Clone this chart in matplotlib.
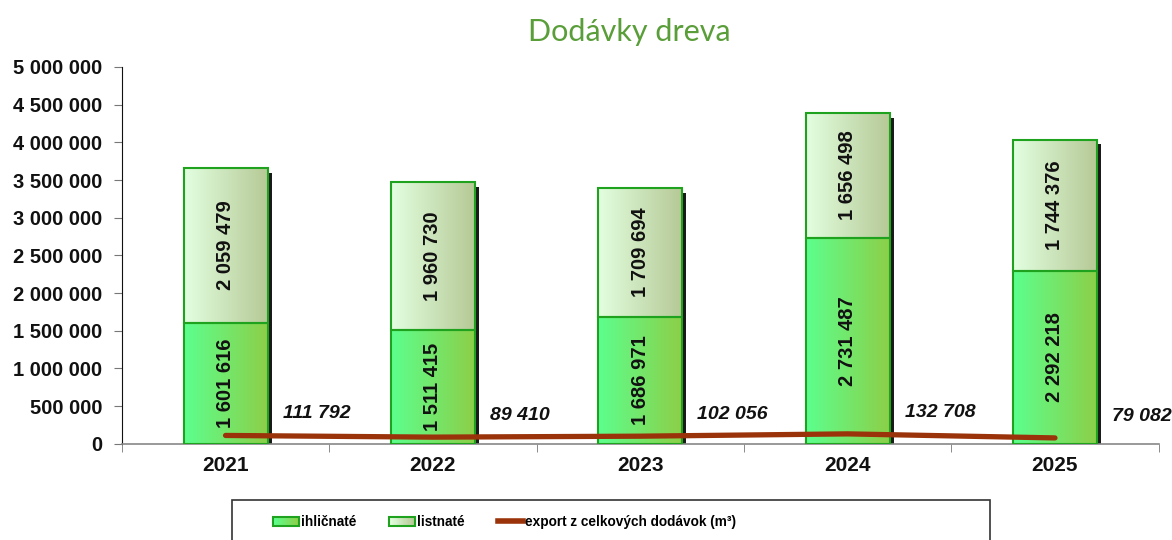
import numpy as np
import matplotlib
matplotlib.use("Agg")
import matplotlib.pyplot as plt
from matplotlib.colors import LinearSegmentedColormap
from matplotlib.patches import Rectangle, Patch
from matplotlib.lines import Line2D
from matplotlib.legend_handler import HandlerBase

plt.rcParams['font.family'] = ['Liberation Sans', 'DejaVu Sans']

# data
years = ['2021', '2022', '2023', '2024', '2025']
ihlicnate = [1601616, 1511415, 1686971, 2731487, 2292218]
listnate = [2059479, 1960730, 1709694, 1656498, 1744376]
export = [111792, 89410, 102056, 132708, 79082]

cmap_ihl = LinearSegmentedColormap.from_list('ihl', ['#5CFF8E', '#8CCF48'])
cmap_lis = LinearSegmentedColormap.from_list('lis', ['#E2FFE0', '#B6C996'])
edge = '#1FA31F'

def fmt(v):
    return f"{v:,}".replace(",", " ")

fig = plt.figure(figsize=(11.72, 5.4), dpi=100)
ax = fig.add_axes([0.104, 0.178, 0.8846, 0.698])

x = np.arange(len(years))
w = 0.405
grad = np.linspace(0, 1, 256).reshape(1, -1)
sx, sy = 0.02, 65000

for i in x:
    bottoms = [0, ihlicnate[i]]
    heights = [ihlicnate[i], listnate[i]]
    total = ihlicnate[i] + listnate[i]
    # shadow
    ax.add_patch(Rectangle((i - w / 2 + sx, 0), w, total - sy, facecolor='#1a1a1a',
                           edgecolor='none', zorder=1))
    for b, h, cm in zip(bottoms, heights, [cmap_ihl, cmap_lis]):
        ax.imshow(grad, cmap=cm, extent=[i - w / 2, i + w / 2, b, b + h],
                  aspect='auto', zorder=2)
        ax.add_patch(Rectangle((i - w / 2, b), w, h, facecolor='none',
                               edgecolor=edge, lw=1.5, zorder=3))
        ax.text(i, b + h / 2, fmt(h), rotation=90, ha='center', va='center',
                fontsize=14.5, fontweight='bold', color='#111111', zorder=5)

ax.plot(x, export, color='#9A3309', lw=3.8, solid_capstyle='round', zorder=4)
for i in x:
    ax.text(i + 0.275, export[i] + 290000, fmt(export[i]), ha='left', va='center',
            fontsize=14, fontweight='bold', style='italic', color='#111111', zorder=5)

ax.set_xlim(-0.5, len(years) - 0.5)
ax.set_ylim(0, 5000000)
ax.set_yticks(np.arange(0, 5000001, 500000))
ax.set_yticklabels([fmt(v) for v in range(0, 5000001, 500000)],
                   fontsize=14.5, fontweight='bold', color='#111111')
ax.set_xticks(x)
ax.set_xticklabels(years, fontsize=15, fontweight='bold', color='#111111')
ax.set_xticks(np.arange(-0.5, len(years), 1), minor=True)
ax.tick_params(axis='x', which='major', length=0, pad=9)
ax.tick_params(axis='x', which='minor', length=6, color='#777777', direction='out')
ax.tick_params(axis='y', length=6, color='#777777', direction='out', pad=8)
for s in ['top', 'right']:
    ax.spines[s].set_visible(False)
ax.spines['left'].set_color('#111111')
ax.spines['bottom'].set_color('#888888')
ax.spines['bottom'].set_linewidth(1.2)

fig.text(629 / 1172, 1 - 32 / 540, 'Dodávky dreva', ha='center', va='center',
         fontsize=22, color='#5A9E3A', family=['Lato', 'DejaVu Sans'])


class GradHandler(HandlerBase):
    def __init__(self, cmap):
        super().__init__()
        self.cmap = cmap

    def create_artists(self, legend, orig, xd, yd, width, height, fontsize, trans):
        arts = []
        n = 20
        for k in range(n):
            arts.append(Rectangle((xd + k * width / n, yd), width / n + 0.3, height,
                                  facecolor=self.cmap(k / (n - 1)), edgecolor='none',
                                  transform=trans))
        arts.append(Rectangle((xd, yd), width, height, facecolor='none',
                              edgecolor=edge, lw=1.5, transform=trans))
        return arts


# legend frame
fig.patches.append(Rectangle((232 / 1172, -0.05), 758 / 1172, 0.05 + 40 / 540,
                             transform=fig.transFigure, facecolor='white',
                             edgecolor='#333333', lw=1.2))

h1 = Patch(label='ihličnaté')
h2 = Patch(label='listnaté')
h3 = Line2D([], [], color='#9A3309', lw=4, label='export z celkových dodávok (m³)')
leg = fig.legend(handles=[h1, h2, h3], ncol=3, loc='center left',
                 bbox_to_anchor=(268 / 1172, 1 - 522 / 540),
                 frameon=False,
                 handler_map={h1: GradHandler(cmap_ihl), h2: GradHandler(cmap_lis)},
                 prop={'weight': 'bold', 'size': 9.8},
                 handlelength=1.85, handleheight=0.65, handletextpad=0.15,
                 columnspacing=2.45, borderaxespad=0)

fig.savefig('out.png', dpi=100)
